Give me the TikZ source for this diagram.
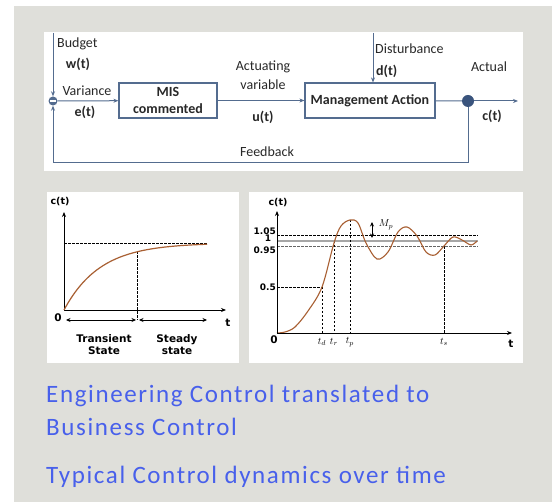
\documentclass[tikz,border=0pt]{standalone}
\usepackage{fontspec}
\setmainfont{Carlito}
\newfontfamily\verd{DejaVu Sans}
\newfontfamily\spaced{Carlito}[LetterSpace=6.5]
\usetikzlibrary{arrows.meta}
\definecolor{bgray}{RGB}{223,223,218}
\definecolor{lineblue}{RGB}{84,108,143}
\definecolor{dotblue}{RGB}{58,84,125}
\definecolor{curvebrown}{RGB}{168,95,50}
\definecolor{txtblue}{RGB}{72,96,235}
\definecolor{txtdark}{RGB}{40,40,40}
\begin{document}
\begin{tikzpicture}[x=1pt,y=-1pt,
  lbl/.style={font=\fontsize{14}{15}\selectfont, text=txtdark, inner sep=0pt},
  blbl/.style={font=\fontsize{14}{15}\selectfont\bfseries, text=txtdark, inner sep=0pt},
  blk/.style={draw=lineblue, line width=1.2pt, fill=white, font=\fontsize{14}{17}\selectfont\bfseries, text=txtdark, align=center, inner sep=0pt},
  fl/.style={draw=lineblue, line width=1pt, -{Stealth[length=5pt,width=4pt]}},
  ln/.style={draw=lineblue, line width=1pt},
  ax/.style={line width=0.9pt, -{Stealth[length=5pt,width=4pt]}},
  dbl/.style={line width=0.8pt, {Stealth[length=4.5pt,width=4pt]}-{Stealth[length=4.5pt,width=4pt]}},
  dsh/.style={dashed, dash pattern=on 2.5pt off 1.5pt, line width=0.6pt},
  vl/.style={font=\verd\bfseries\fontsize{9.5}{10}\selectfont, inner sep=0pt, align=center},
  sl/.style={font=\verd\bfseries\fontsize{10.5}{12.5}\selectfont, inner sep=0pt, align=center},
  tl/.style={font=\verd\bfseries\fontsize{9}{9}\selectfont, inner sep=0pt},
  ml/.style={inner sep=0pt, font=\fontsize{10}{11}\selectfont},
  bt/.style={font=\spaced\fontsize{25}{27}\selectfont, text=txtblue, inner sep=0pt, anchor=west}
]
\useasboundingbox (0,0) rectangle (552,502);
\fill[bgray] (14,6) rectangle (552,502);
\fill[white] (44,32) rectangle (523,171);
\fill[white] (47,192) rectangle (239,363);
\fill[white] (249,192) rectangle (523,363);

% ---------- top block diagram ----------
\node[blk, minimum width=98pt, minimum height=35pt] (mis) at (168,100.5) {MIS\\commented};
\node[blk, minimum width=130pt, minimum height=35pt] (mgmt) at (370,100.5) {Management Action};
\node[circle, fill=lineblue, minimum size=9pt, inner sep=0pt] (sum) at (53,101) {};
\draw[white, line width=1.2pt] ([xshift=1.6pt]sum.west) -- ([xshift=-1.6pt]sum.east);
\node[circle, fill=dotblue, minimum size=12pt, inner sep=0pt] (dot) at (468,101) {};
\coordinate (wtop) at (53,33);
\coordinate (dtop) at (373,33);
\coordinate (out) at (518,101);
\draw[fl] (wtop) -- (sum);
\draw[fl] (sum) -- (mis);
\draw[fl] (mis) -- (mgmt);
\draw[fl] (dtop) -- (dtop |- mgmt.north);
\draw[ln] (mgmt) -- (dot);
\draw[fl] (dot) -- (out);
\draw[fl] (dot) -- ++(0,62) -| (sum);

\node[lbl, anchor=west] (budget) at (57,44) {Budget};
\node[blbl] (wt) at (78,64) {w(t)};
\node[lbl] (variance) at (87,91) {Variance};
\node[blbl] (et) at (85,112) {e(t)};
\node[lbl] (actuating) at (263,67) {Actuating};
\node[lbl] (variable) at (263,85) {variable};
\node[blbl] (ut) at (263,117) {u(t)};
\node[lbl, anchor=west] (disturb) at (375,49) {Disturbance};
\node[blbl, anchor=west] (dt) at (376,71) {d(t)};
\node[lbl] (actual) at (489,67) {Actual};
\node[blbl] (ct) at (492,116) {c(t)};
\node[lbl] (feedback) at (267,152) {Feedback};

% ---------- left chart ----------
\coordinate (o1) at (64,310);
\coordinate (ytop1) at (64,212);
\coordinate (xend1) at (226,310);
\draw[ax] (o1) -- (ytop1);
\draw[ax] (o1) -- (xend1);
\node[vl] (c1) at (60,202) {c(t)};
\node[sl] (zero1) at (58,318) {0};
\node[sl] (t1) at (228,323) {t};
\draw[dsh] (64,243) -- (207,243);
\draw[dsh] (137,251.5) -- (137,320);
\draw[curvebrown, line width=1.2pt] plot[domain=0:143, samples=80, smooth] ({64+\x},{310-67*(1-exp(-\x/36))});
\coordinate (a1) at (66,320); \coordinate (a2) at (136,320);
\coordinate (a3) at (139,320); \coordinate (a4) at (207,320);
\draw[dbl] (a1) -- (a2);
\draw[dbl] (a3) -- (a4);
\node[sl] (trans) at (104,344.5) {Transient\\State};
\node[sl] (steady) at (177,344.5) {Steady\\state};

% ---------- right chart ----------
\coordinate (o2) at (277,333);
\coordinate (ytop2) at (277,211);
\coordinate (xend2) at (512,333);
\draw[dsh] (277,235) -- (478,235);
\draw[gray!70, line width=1.6pt] (277,241) -- (478,241);
\draw[dsh, gray!80!black] (277,246.5) -- (478,246.5);
\draw[dsh] (277,287) -- (322,287);
\draw[dsh] (322,287) -- (322,333);
\draw[dsh] (334,241) -- (334,333);
\draw[dsh] (350,220) -- (350,333);
\draw[dsh] (444,246.5) -- (444,333);
\draw[curvebrown, line width=1.1pt] plot[smooth, tension=0.55] coordinates {
 (277,333) (285,332) (295,327) (308,311) (322,287) (334,243) (341,226) (350,220)
 (358,223) (366,243) (377,259) (388,252) (398,232) (407,227) (417,236) (426,252)
 (435,255) (444,246) (453,237) (462,240) (471,245) (477,241)};
\draw[ax] (o2) -- (ytop2);
\draw[ax] (o2) -- (xend2);
\node[vl] (c2) at (278,203) {c(t)};
\node[tl, anchor=east] (l105) at (276,231) {1.05};
\node[tl] (l1) at (268,238.5) {1};
\node[tl, anchor=east] (l095) at (276,250) {0.95};
\node[tl, anchor=east] (l05) at (276,287) {0.5};
\node[sl] (zero2) at (274,340) {0};
\node[sl] (t2) at (511,344) {t};
\node[ml] (td) at (322,342) {$t_d$};
\node[ml] (tr) at (334,342) {$t_r$};
\node[ml] (tp) at (350,342) {$t_p$};
\node[ml] (ts) at (444,342) {$t_s$};
\coordinate (m1) at (372,222); \coordinate (m2) at (372,238);
\draw[dbl, line width=0.7pt] (m1) -- (m2);
\node[ml] (mp) at (386,225) {$M_p$};

% ---------- bottom text ----------
\node[bt] (line1) at (46,396) {Engineering Control translated to};
\node[bt] (line2) at (46,427) {Business Control};
\node[bt] (line3) at (46,477) {Typical Control dynamics over time};
\end{tikzpicture}
\end{document}
